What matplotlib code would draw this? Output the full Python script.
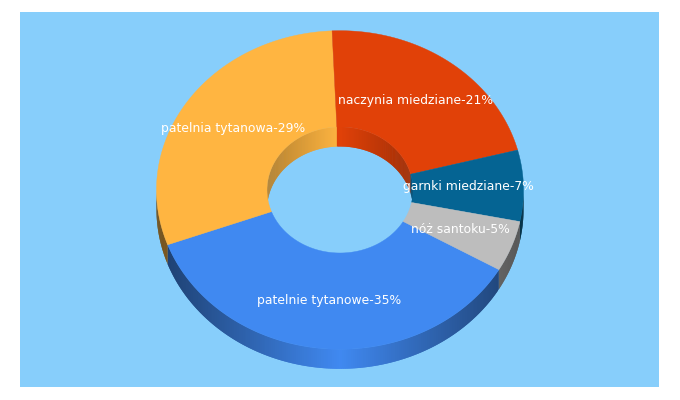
import numpy as np
import matplotlib
matplotlib.use("Agg")
import matplotlib.pyplot as plt
from matplotlib.patches import Polygon, Rectangle
from matplotlib.colors import to_rgb

labels = ["patelnie tytanowe", "patelnia tytanowa", "naczynia miedziane", "garnki miedziane", "nóż santoku"]
values = [35, 29, 21, 7, 5]
colors = ["#4089F1", "#FFB541", "#E14108", "#056493", "#BDBDBD"]
label_pos = [(329, 300.5), (233, 128.5), (415.5, 100.5), (468, 186.5), (460, 229.5)]
start_deg = 120.0

BG = "#87CEFB"
cx, cy, rx, ry = 340.0, 190.0, 183.5, 159.3
irx, iry = 73.0, 63.0
depth = 19.5

fig = plt.figure(figsize=(6.8, 4.0), dpi=100, facecolor="white")
ax = fig.add_axes([0, 0, 1, 1])
ax.set_xlim(0, 680)
ax.set_ylim(400, 0)
ax.axis("off")
ax.add_patch(Rectangle((20, 12), 639, 375, fc=BG, ec="none", zorder=0))


def pts(t, a, b, dy=0.0):
    return cx + a * np.sin(t), cy - b * np.cos(t) + dy


spans = np.array(values, float) / sum(values) * 360.0
edges = start_deg + np.concatenate([[0], np.cumsum(spans)])


def wall(t0, t1, a, b, col, low, z):
    n = max(3, int(abs(t1 - t0) * 1.5))
    ts = np.radians(np.linspace(t0, t1, n))
    base = np.array(to_rgb(col))
    for k, (u, v) in enumerate(zip(ts[:-1], ts[1:])):
        # each strip runs on under the next one, so that no seam shows
        w = ts[min(k + 2, n - 1)]
        seg = np.linspace(u, w, 6)
        x, y = pts(seg, a, b)
        poly = np.column_stack([np.r_[x, x[::-1]], np.r_[y, (y + depth)[::-1]]])
        s = abs(pts((u + v) / 2, a, b)[0] - cx) / a
        ax.add_patch(Polygon(poly, closed=True, fc=base * (1 - (1 - low) * s), ec="none", zorder=z))


for i, col in enumerate(colors):
    t0, t1 = edges[i], edges[i + 1]
    for off in (0, -360):
        a, b = max(t0 + off, 90), min(t1 + off, 270)
        if a < b:
            wall(a, b, rx, ry, col, 0.45, 2)
    for off in (0, -360):
        a, b = max(t0 + off, -90), min(t1 + off, 90)
        if a < b:
            wall(a, b, irx, iry, col, 0.72, 3)

for i, col in enumerate(colors):
    ts = np.radians(np.linspace(edges[i], edges[i + 1], 200))
    ox, oy = pts(ts, rx, ry)
    ix, iy = pts(ts[::-1], irx, iry)
    ax.add_patch(Polygon(np.column_stack([np.r_[ox, ix], np.r_[oy, iy]]), closed=True,
                         fc=col, ec=col, lw=0.3, zorder=4))

for lab, val, (x, y) in zip(labels, values, label_pos):
    ax.text(x, y, f"{lab}-{val}%", color="white", ha="center", va="center",
            fontsize=8.95, family="DejaVu Sans", zorder=6)

fig.savefig("out.png", dpi=100, facecolor="white")
